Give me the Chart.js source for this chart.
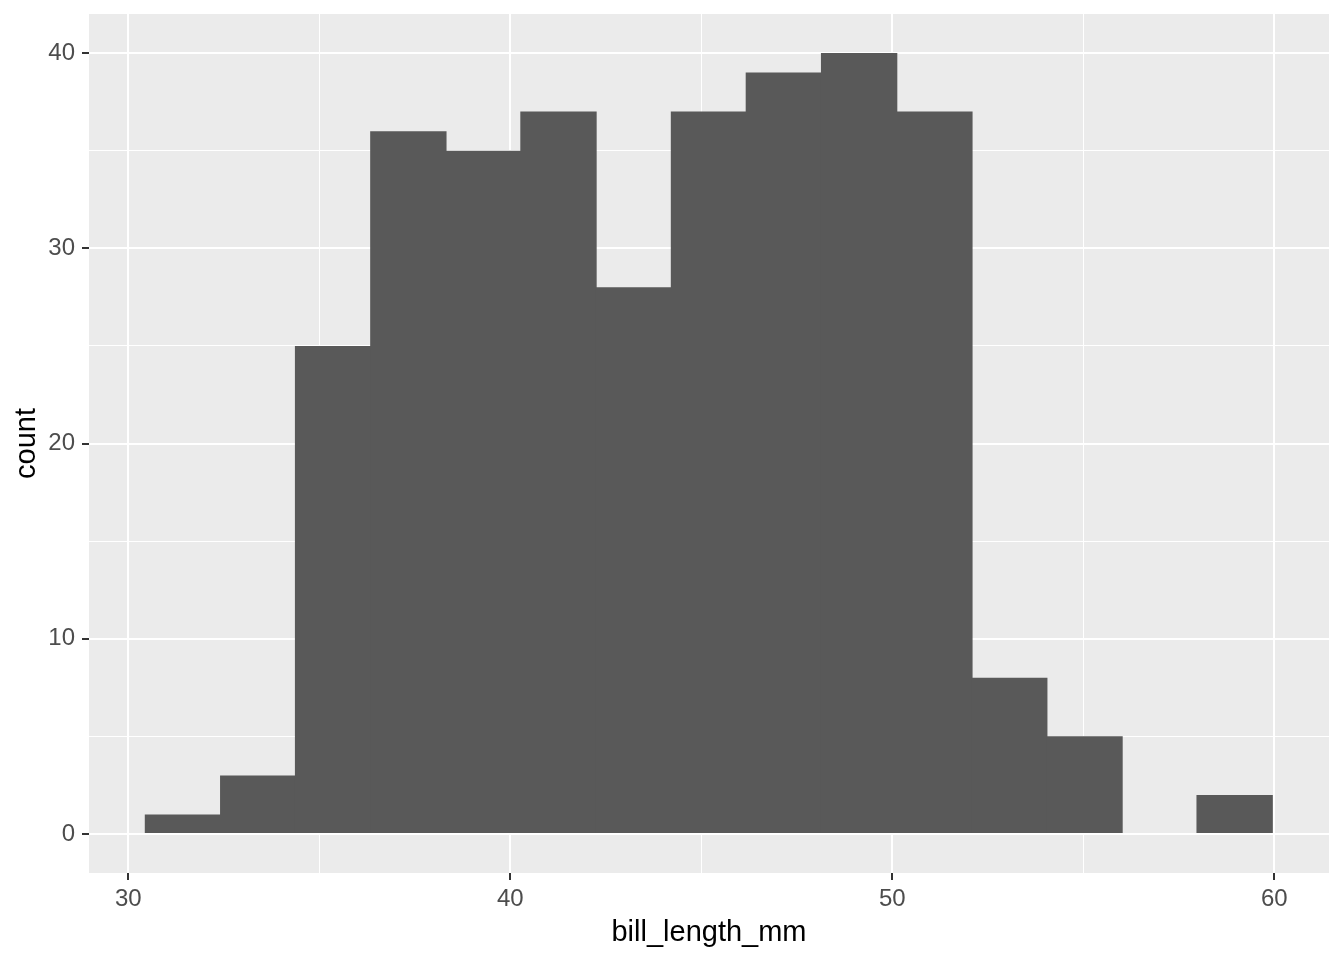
<!DOCTYPE html>
<html>
<head>
<meta charset="utf-8">
<script src="https://cdn.jsdelivr.net/npm/chart.js@4"></script>
<style>
  body { margin: 0; background: #ffffff; }
  #wrap { width: 1344px; height: 960px; position: relative; }
</style>
</head>
<body>
<div id="wrap"><canvas id="my-chart"></canvas></div>
<script>
// histogram bins (centres) and counts
var binCenters = [31.43, 33.40, 35.36, 37.33, 39.30, 41.26, 43.23, 45.20, 47.16, 49.13, 51.10, 53.06, 55.03, 57.00, 58.96];
var counts = [1, 3, 25, 36, 35, 37, 28, 37, 39, 40, 37, 8, 5, 0, 2];

var xTicks = [30, 35, 40, 45, 50, 55, 60];
var xMajor = [30, 40, 50, 60];
var yTicks = [0, 5, 10, 15, 20, 25, 30, 35, 40];
var yMajor = [0, 10, 20, 30, 40];

var fontFamily = "'Liberation Sans', Arial, sans-serif";

var panelBackground = {
  id: "panelBackground",
  beforeDraw: function (chart) {
    var ctx = chart.ctx;
    var a = chart.chartArea;
    ctx.save();
    ctx.fillStyle = "#EBEBEB";
    ctx.fillRect(a.left, a.top, a.right - a.left, a.bottom - a.top);
    ctx.restore();
  },
};

// ggplot style tick marks, outside the panel, only at major ticks
var tickMarks = {
  id: "tickMarks",
  afterDraw: function (chart) {
    var ctx = chart.ctx;
    var a = chart.chartArea;
    ctx.save();
    ctx.strokeStyle = "#333333";
    ctx.lineWidth = 2;
    ctx.beginPath();
    xMajor.forEach(function (v) {
      var px = Math.round(chart.scales.x.getPixelForValue(v));
      ctx.moveTo(px, a.bottom);
      ctx.lineTo(px, a.bottom + 7);
    });
    yMajor.forEach(function (v) {
      var py = Math.round(chart.scales.y.getPixelForValue(v));
      ctx.moveTo(a.left - 7, py);
      ctx.lineTo(a.left, py);
    });
    ctx.stroke();
    ctx.restore();
  },
};

function renderChart() {
  var ctx = document.getElementById("my-chart").getContext("2d");
  var myChart = new Chart(ctx, {
    type: "bar",
    data: {
      datasets: [
        {
          label: "count",
          data: binCenters.map(function (c, i) {
            return { x: c, y: counts[i] };
          }),
          backgroundColor: "#595959",
          borderWidth: 0,
          barPercentage: 1.02,
          categoryPercentage: 1,
        },
      ],
    },
    options: {
      responsive: true,
      maintainAspectRatio: false,
      animation: false,
      layout: { padding: { top: 14, right: 15, left: 0, bottom: 0 } },
      plugins: {
        legend: { display: false },
        tooltip: { enabled: false },
      },
      scales: {
        x: {
          type: "linear",
          min: 28.97,
          max: 61.43,
          offset: false,
          afterBuildTicks: function (scale) {
            scale.ticks = xTicks.map(function (v) { return { value: v }; });
          },
          afterFit: function (scale) {
            scale.height = 87;
            scale.paddingLeft = 0;
            scale.paddingRight = 0;
          },
          grid: {
            offset: false,
            color: "#FFFFFF",
            lineWidth: function (c) {
              return c.tick && xMajor.indexOf(c.tick.value) >= 0 ? 2 : 1;
            },
            drawTicks: false,
          },
          border: { display: false },
          ticks: {
            autoSkip: false,
            maxRotation: 0,
            padding: 12,
            color: "#4D4D4D",
            font: { family: fontFamily, size: 24 },
            callback: function (v) {
              return xMajor.indexOf(v) >= 0 ? String(v) : "";
            },
          },
          title: {
            display: true,
            text: "bill_length_mm",
            color: "#000000",
            font: { family: fontFamily, size: 29 },
            padding: { top: 0, bottom: 10 },
          },
        },
        y: {
          type: "linear",
          min: -2,
          max: 42,
          afterBuildTicks: function (scale) {
            scale.ticks = yTicks.map(function (v) { return { value: v }; });
          },
          afterFit: function (scale) {
            scale.width = 89;
            scale.paddingTop = 0;
            scale.paddingBottom = 0;
          },
          grid: {
            color: "#FFFFFF",
            lineWidth: function (c) {
              return c.tick && yMajor.indexOf(c.tick.value) >= 0 ? 2 : 1;
            },
            drawTicks: false,
          },
          border: { display: false },
          ticks: {
            autoSkip: false,
            padding: 14,
            color: "#4D4D4D",
            font: { family: fontFamily, size: 24 },
            callback: function (v) {
              return yMajor.indexOf(v) >= 0 ? String(v) : "";
            },
          },
          title: {
            display: true,
            text: "count",
            color: "#000000",
            font: { family: fontFamily, size: 29 },
            padding: { top: 10, bottom: 0 },
          },
        },
      },
    },
    plugins: [panelBackground, tickMarks],
  });
}

renderChart();
</script>
</body>
</html>
